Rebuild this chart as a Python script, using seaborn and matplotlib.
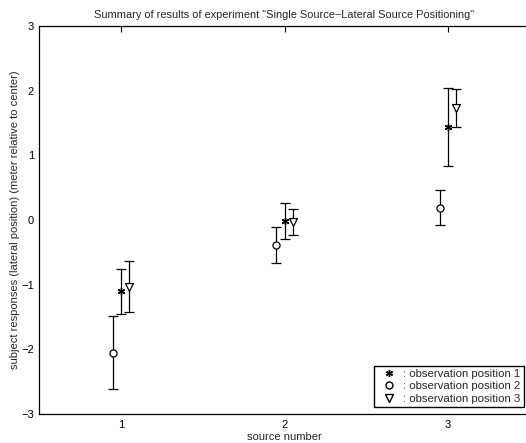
import matplotlib
matplotlib.use("Agg")
import matplotlib.pyplot as plt
import seaborn as sns
import pandas as pd
import numpy as np
from matplotlib.lines import Line2D

# ---- data ----
sources = [1, 2, 3]
pos1_mean = [-1.10, -0.01, 1.44]
pos1_err = [0.35, 0.28, 0.60]
pos2_mean = [-2.05, -0.39, 0.19]
pos2_err = [0.56, 0.28, 0.27]
pos3_mean = [-1.03, -0.03, 1.73]
pos3_err = [0.39, 0.20, 0.29]
offsets = [0.0, -0.05, 0.05]
labels = [": observation position 1", ": observation position 2", ": observation position 3"]

sns.set_style("white")
plt.rcParams['font.family'] = ['Liberation Sans', 'DejaVu Sans']

rows = []
for name, m, e, off in zip(["1", "2", "3"], [pos1_mean, pos2_mean, pos3_mean],
                           [pos1_err, pos2_err, pos3_err], offsets):
    for s, mv, ev in zip(sources, m, e):
        rows.append({"x": s + off, "y": mv, "err": ev, "pos": name})
df = pd.DataFrame(rows)

fig = plt.figure(figsize=(5.26, 4.43), dpi=100)
ax = fig.add_axes([39/526, 1-414/443, 491/526, 388/443])

# error bars
for name in ["1", "2", "3"]:
    d = df[df.pos == name]
    ax.errorbar(d.x, d.y, yerr=d.err, fmt='none', ecolor='black', elinewidth=0.9,
                capsize=3.5, capthick=0.9, zorder=2)

ast = (6, 2, 0)
d1 = df[df.pos == "1"]
sns.scatterplot(data=d1, x="x", y="y", marker=ast, s=22, color="black",
                edgecolor="black", linewidth=1.0, ax=ax, zorder=3, legend=False)
d2 = df[df.pos == "2"]
sns.scatterplot(data=d2, x="x", y="y", marker="o", s=26, facecolor="white",
                edgecolor="black", linewidth=0.9, ax=ax, zorder=3, legend=False)
d3 = df[df.pos == "3"]
sns.scatterplot(data=d3, x="x", y="y", marker="v", s=32, facecolor="white",
                edgecolor="black", linewidth=0.9, ax=ax, zorder=3, legend=False)

ax.set_xlim(0.5, 3.5)
ax.set_ylim(-3, 3)
ax.set_xticks(sources)
ax.set_yticks([-3, -2, -1, 0, 1, 2, 3])
ax.tick_params(axis='both', direction='in', length=4, width=0.8, labelsize=8,
               colors='black', top=True, right=False)
ax.tick_params(axis='x', pad=4)
for sp in ax.spines.values():
    sp.set_color('black')
    sp.set_linewidth(0.9)

ax.set_xlabel("source number", fontsize=8, labelpad=2)
ax.set_ylabel("subject responses (lateral position) (meter relative to center)", fontsize=8, labelpad=1)
ax.set_title('Summary of results of experiment "Single Source\u2212Lateral Source Positioning"',
             fontsize=7.9, pad=6)

handles = [
    Line2D([], [], marker=ast, color="black", markeredgewidth=1.0, linestyle="none", markersize=5),
    Line2D([], [], marker="o", markerfacecolor="white", markeredgecolor="black", linestyle="none", markersize=5),
    Line2D([], [], marker="v", markerfacecolor="white", markeredgecolor="black", linestyle="none", markersize=5.5),
]
leg = ax.legend(handles, labels, loc="lower right", bbox_to_anchor=(524/526, 1-407/443),
                bbox_transform=fig.transFigure, borderaxespad=0, fontsize=8.2,
                fancybox=False, framealpha=1, edgecolor="black", handlelength=2.0,
                handletextpad=0.3, labelspacing=0.2, borderpad=0.3)
leg.get_frame().set_linewidth(1.0)

fig.savefig("out.png", dpi=100)
